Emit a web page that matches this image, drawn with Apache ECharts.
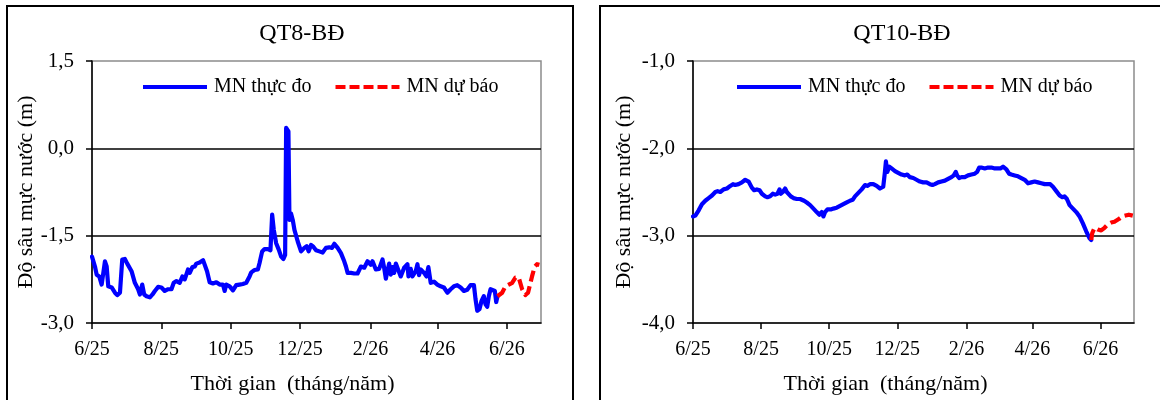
<!DOCTYPE html>
<html><head><meta charset="utf-8">
<script src="https://cdn.jsdelivr.net/npm/echarts@6/dist/echarts.min.js"></script>
<style>html,body{margin:0;padding:0;background:#fff}#c{width:1160px;height:400px}</style>
</head><body><div id="c"></div>
<script>
// Day offsets are counted from 1 June 2025
const xTickDays = [0, 61, 122, 183, 245, 304, 365];
const xTickLabels = ['6/25', '8/25', '10/25', '12/25', '2/26', '4/26', '6/26'];
const xMaxDay = 395;

const seriesNames = ['MN thực đo', 'MN dự báo'];

// QT8-BĐ measured
const qt8Days = [0,2.6,4.1,6.4,8.5,11.4,12.9,14.3,17.3,20.2,22.2,24.6,26.6,28.9,31.0,32.7,34.8,37.7,40.6,42.1,44.2,45.9,48.0,50.9,53.2,55.3,58.2,61.1,64.0,67.0,69.9,71.9,74.3,77.2,79.5,81.6,84.5,86.0,88.3,90.4,91.8,94.7,97.7,99.1,101.2,103.5,106.4,109.4,112.3,115.2,116.7,118.1,119.6,121.1,124.0,126.9,129.8,132.7,135.7,137.1,138.6,140.1,143.0,145.9,147.4,149.7,151.8,154.7,157.0,158.5,159.9,162.0,164.3,166.4,168.4,169.9,170.8,172.8,173.7,175.1,176.6,178.1,181.0,183.9,186.8,188.9,190.6,192.7,194.7,197.1,200.0,202.9,205.8,208.8,211.1,213.2,216.1,219.0,221.9,223.4,224.9,227.8,230.7,233.6,236.5,238.0,239.5,242.4,245.3,246.8,249.7,252.6,255.6,257.0,258.5,259.9,261.4,262.9,264.3,265.8,267.3,268.7,271.6,274.6,277.5,278.4,280.4,281.9,284.8,286.3,287.7,289.2,292.1,294.2,295.9,298.0,300.9,303.8,306.7,309.6,312.6,315.5,318.4,321.3,324.3,327.2,330.1,333.0,336.0,337.4,338.9,340.9,342.7,344.7,346.2,347.7,349.1,350.6,352.0,354.4,355.6,356.7];
const qt8Measured = [-1.86,-2.03,-2.17,-2.20,-2.34,-1.94,-2.03,-2.37,-2.39,-2.48,-2.52,-2.48,-1.91,-1.90,-1.98,-1.97,-2.11,-2.31,-2.42,-2.51,-2.34,-2.51,-2.54,-2.56,-2.51,-2.45,-2.38,-2.39,-2.45,-2.42,-2.42,-2.31,-2.28,-2.31,-2.20,-2.25,-2.08,-2.14,-2.04,-2.03,-1.98,-1.96,-1.92,-1.91,-2.11,-2.30,-2.32,-2.30,-2.34,-2.34,-2.45,-2.34,-2.31,-2.37,-2.44,-2.35,-2.34,-2.33,-2.31,-2.31,-2.20,-2.13,-2.09,-2.08,-1.97,-1.77,-1.73,-1.73,-1.75,-1.14,-1.40,-1.63,-1.74,-1.86,-1.90,-1.83,0.35,0.29,-1.23,-1.12,-1.23,-1.40,-1.60,-1.77,-1.71,-1.68,-1.77,-1.66,-1.69,-1.75,-1.77,-1.79,-1.71,-1.70,-1.71,-1.64,-1.71,-1.80,-1.94,-2.03,-2.14,-2.14,-2.15,-2.15,-2.03,-2.00,-2.05,-1.94,-2.00,-1.94,-2.08,-2.07,-1.91,-2.05,-2.24,-2.11,-1.98,-2.17,-2.04,-2.14,-1.98,-1.96,-2.20,-2.05,-1.99,-2.20,-2.07,-2.20,-2.11,-1.99,-2.18,-2.08,-2.14,-2.20,-2.04,-2.31,-2.29,-2.34,-2.37,-2.39,-2.48,-2.42,-2.37,-2.35,-2.39,-2.45,-2.43,-2.35,-2.35,-2.59,-2.79,-2.76,-2.62,-2.54,-2.68,-2.72,-2.54,-2.42,-2.41,-2.45,-2.64,-2.54];
// QT8-BĐ forecast
const qt8FcDays = [356.7,360.8,363.7,366.7,369.6,372.5,375.4,378.4,381.3,383.6,387.1,389.5,391.5,393.6];
const qt8Forecast = [-2.54,-2.48,-2.37,-2.34,-2.31,-2.22,-2.22,-2.42,-2.52,-2.48,-2.20,-2.03,-1.99,-2.00];

// QT10-BĐ measured
const qt10Days = [0,2.1,5.1,8.0,11.0,14.0,17.0,20.0,22.0,24.4,27.4,30.4,33.4,35.8,37.8,40.8,43.8,46.8,48.3,49.8,52.7,54.8,57.2,59.6,61.7,64.7,66.7,69.1,71.5,73.6,75.7,77.5,78.7,80.5,82.5,84.0,85.5,87.6,90.0,93.0,95.9,99.5,101.9,104.9,107.9,110.8,113.2,115.3,116.8,118.3,120.4,123.4,125.7,127.2,128.7,131.7,134.7,137.7,140.6,143.0,145.1,148.1,151.1,154.1,156.1,158.5,161.5,164.5,167.5,169.0,170.4,171.9,172.8,174.0,175.8,177.9,180.9,183.8,186.8,189.8,191.9,194.3,197.3,200.2,203.2,206.2,209.2,212.2,214.5,216.6,219.6,222.6,225.6,228.5,231.5,233.6,235.4,236.6,238.4,240.5,243.4,246.4,249.4,252.4,254.5,256.3,258.3,261.3,264.3,267.3,270.3,273.2,275.3,277.7,279.2,280.7,283.1,285.2,288.1,291.1,294.1,297.1,300.1,303.0,306.0,309.0,312.0,315.0,317.9,320.0,322.4,325.4,328.4,330.8,332.8,334.9,337.3,340.3,343.3,346.2,349.2,352.2,355.2,356.7];
const qt10Measured = [-2.78,-2.77,-2.71,-2.64,-2.60,-2.57,-2.54,-2.50,-2.49,-2.50,-2.47,-2.46,-2.43,-2.41,-2.42,-2.41,-2.39,-2.36,-2.34,-2.38,-2.45,-2.48,-2.47,-2.48,-2.52,-2.55,-2.56,-2.55,-2.52,-2.53,-2.52,-2.47,-2.52,-2.50,-2.46,-2.50,-2.52,-2.55,-2.57,-2.58,-2.58,-2.60,-2.62,-2.65,-2.69,-2.73,-2.76,-2.73,-2.78,-2.73,-2.70,-2.70,-2.69,-2.70,-2.68,-2.66,-2.64,-2.62,-2.60,-2.59,-2.55,-2.51,-2.47,-2.42,-2.43,-2.41,-2.41,-2.43,-2.46,-2.46,-2.44,-2.27,-2.15,-2.27,-2.21,-2.23,-2.26,-2.28,-2.30,-2.31,-2.30,-2.33,-2.34,-2.36,-2.38,-2.39,-2.39,-2.41,-2.42,-2.41,-2.39,-2.38,-2.37,-2.35,-2.33,-2.31,-2.27,-2.31,-2.34,-2.33,-2.33,-2.31,-2.30,-2.29,-2.27,-2.22,-2.22,-2.23,-2.22,-2.22,-2.23,-2.23,-2.23,-2.21,-2.22,-2.24,-2.29,-2.30,-2.31,-2.32,-2.34,-2.36,-2.40,-2.39,-2.38,-2.39,-2.40,-2.41,-2.41,-2.41,-2.44,-2.49,-2.54,-2.56,-2.55,-2.58,-2.65,-2.69,-2.73,-2.78,-2.86,-2.95,-3.03,-3.05];
// QT10-BĐ forecast
const qt10FcDays = [356.7,357.6,359.7,362.6,365.6,368.6,371.6,374.6,377.5,381.4,384.4,387.4,390.4,393.9];
const qt10Forecast = [-3.05,-2.97,-2.91,-2.93,-2.94,-2.91,-2.87,-2.85,-2.84,-2.81,-2.78,-2.77,-2.76,-2.77];

const panelTitles = ['QT8-BĐ', 'QT10-BĐ'];
const yRanges = [{min: -3, max: 1.5, interval: 1.5}, {min: -4, max: -1, interval: 1}];
const yName = 'Độ sâu mực nước (m)';
const xName = 'Thời gian  (tháng/năm)';

const FONT = "'Liberation Serif','Times New Roman',serif";
const zip = (a, b) => a.map((d, i) => [d, b[i]]);

const grids = [
  {left: 92, top: 61, width: 449, height: 262},
  {left: 693, top: 61, width: 441, height: 262}
];

// legend icons: solid bar and a dashed bar (aspect 64:4)
const ICON_SOLID = 'path://M0,0H64V4H0Z';
const ICON_DASH = 'path://M0,0H10V4H0Z M14,0H24V4H14Z M28,0H38V4H28Z M42,0H52V4H42Z M56,0H64V4H56Z';

function xAxisFor(i, namePad) {
  return {
    type: 'value', gridIndex: i, min: 0, max: xMaxDay, interval: 61,
    name: xName, nameLocation: 'middle', nameGap: 50,
    nameTextStyle: {fontFamily: FONT, fontSize: 22, color: '#000', padding: [0, namePad, 0, 0]},
    axisLine: {show: true, onZero: false, lineStyle: {color: '#000', width: 1.5}},
    axisTick: {show: true, length: 6, lineStyle: {color: '#000', width: 1.5}, customValues: xTickDays},
    axisLabel: {
      fontFamily: FONT, fontSize: 20, color: '#000', margin: 17, customValues: xTickDays,
      formatter: v => { const k = xTickDays.findIndex(d => Math.abs(d - v) < 2); return k >= 0 ? xTickLabels[k] : ''; }
    },
    splitLine: {show: false}
  };
}
function yAxisFor(i, gap) {
  return {
    type: 'value', gridIndex: i, ...yRanges[i],
    name: yName, nameLocation: 'middle', nameGap: gap, nameRotate: 90,
    nameTextStyle: {fontFamily: FONT, fontSize: 22, color: '#000'},
    axisLine: {show: true, onZero: false, lineStyle: {color: '#000', width: 1.5}},
    axisTick: {show: true, length: 6, lineStyle: {color: '#000', width: 1.5}},
    axisLabel: {fontFamily: FONT, fontSize: 21, color: '#000', margin: 18,
      formatter: v => v.toFixed(1).replace('.', ',')},
    splitLine: {show: true, showMinLine: false, showMaxLine: false, lineStyle: {color: '#000', width: 1.5}}
  };
}
function lineSeries(name, gi, data, color, dashed) {
  return {
    name, type: 'line', xAxisIndex: gi, yAxisIndex: gi, data,
    showSymbol: false, symbol: 'none', smooth: false, z: dashed ? 4 : 3,
    lineStyle: {color, width: 4.2, type: dashed ? [11, 5] : 'solid', join: 'round', cap: dashed ? 'butt' : 'round'},
    itemStyle: {color},
    emphasis: {disabled: true}, animation: false
  };
}
function legendFor(left) {
  return {
    data: [{name: seriesNames[0], icon: ICON_SOLID}, {name: seriesNames[1], icon: ICON_DASH}],
    left, top: 72, itemWidth: 64, itemHeight: 4, itemGap: 24,
    textStyle: {fontFamily: FONT, fontSize: 20, color: '#000', padding: [0, 0, 0, 2]},
    selectedMode: false
  };
}

const chart = echarts.init(document.getElementById('c'), null, {renderer: 'canvas'});
chart.setOption({
  backgroundColor: '#fff',
  animation: false,
  grid: grids.map(g => ({...g, show: true, borderColor: '#8c8c8c', borderWidth: 1.5, backgroundColor: 'transparent'})),
  xAxis: [xAxisFor(0, 48), xAxisFor(1, 56)],
  yAxis: [yAxisFor(0, 46), yAxisFor(1, 58)],
  legend: [legendFor(138), legendFor(732)],
  series: [
    lineSeries(seriesNames[0], 0, zip(qt8Days, qt8Measured), '#0000ff', false),
    lineSeries(seriesNames[1], 0, zip(qt8FcDays, qt8Forecast), '#ff0000', true),
    lineSeries(seriesNames[0], 1, zip(qt10Days, qt10Measured), '#0000ff', false),
    lineSeries(seriesNames[1], 1, zip(qt10FcDays, qt10Forecast), '#ff0000', true)
  ],
  graphic: [
    {type: 'rect', shape: {x: 7, y: 6, width: 566, height: 420}, style: {fill: 'none', stroke: '#000', lineWidth: 2}, silent: true, z: 0},
    {type: 'rect', shape: {x: 600, y: 6, width: 580, height: 420}, style: {fill: 'none', stroke: '#000', lineWidth: 2}, silent: true, z: 0},
    {type: 'text', x: 302, y: 34, style: {text: panelTitles[0], fontFamily: FONT, fontSize: 24, fill: '#000', textAlign: 'center', textVerticalAlign: 'middle'}, silent: true},
    {type: 'text', x: 902, y: 34, style: {text: panelTitles[1], fontFamily: FONT, fontSize: 24, fill: '#000', textAlign: 'center', textVerticalAlign: 'middle'}, silent: true}
  ]
});
</script>
</body></html>
